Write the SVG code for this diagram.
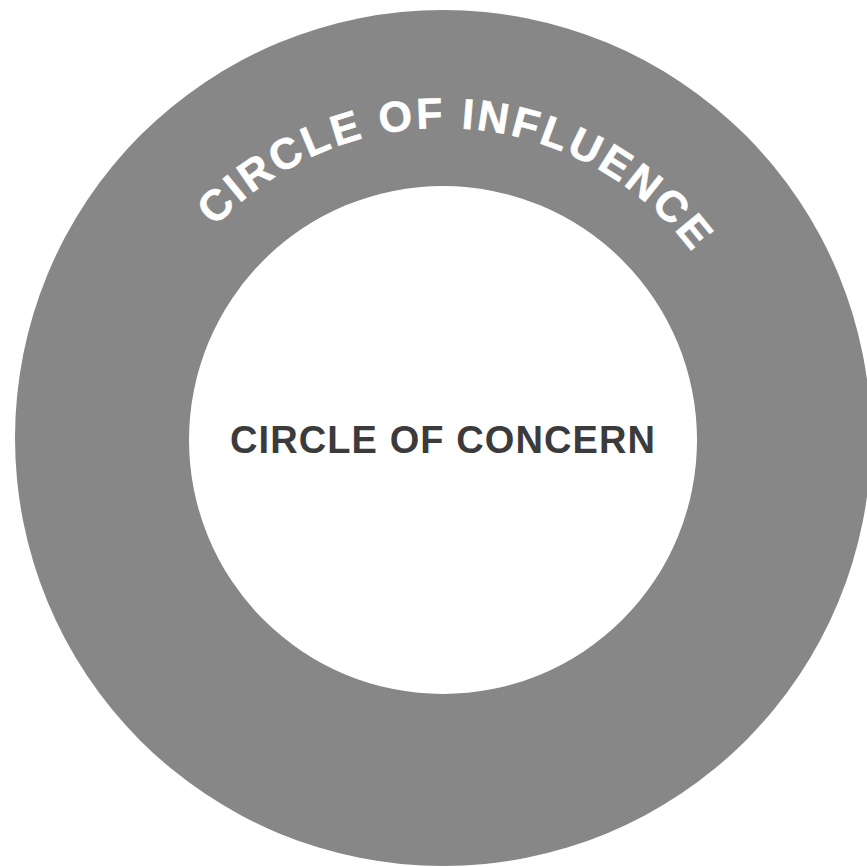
<svg xmlns="http://www.w3.org/2000/svg" xmlns:xlink="http://www.w3.org/1999/xlink" width="867" height="867" viewBox="0 0 867 867">
  <style>
    .ring { fill: #878787; }
    .hole { fill: #ffffff; }
    .lbl-out { font-family: "Liberation Sans", Arial, sans-serif; font-weight: bold; font-size: 43px; fill: #ffffff; stroke: #ffffff; stroke-width: 0.6px; letter-spacing: 3px; }
    .lbl-in { font-family: "Liberation Sans", Arial, sans-serif; font-weight: bold; font-size: 38px; fill: #3b3b3b; }
  </style>
  <defs>
    <path id="arc" d="M 131 440 A 312 312 0 0 1 755 440" fill="none"/>
  </defs>
  <rect width="867" height="867" fill="#ffffff"/>
  <g id="influence">
    <circle class="ring" cx="443" cy="438" r="428"/>
    <text class="lbl-out" text-anchor="middle"><textPath xlink:href="#arc" href="#arc" startOffset="51.8%">CIRCLE OF INFLUENCE</textPath></text>
  </g>
  <g id="concern">
    <circle class="hole" cx="443" cy="440" r="254"/>
    <text class="lbl-in" x="442.5" y="453" text-anchor="middle" textLength="425" lengthAdjust="spacing">CIRCLE OF CONCERN</text>
  </g>
  <g id="connectors"></g>
</svg>
